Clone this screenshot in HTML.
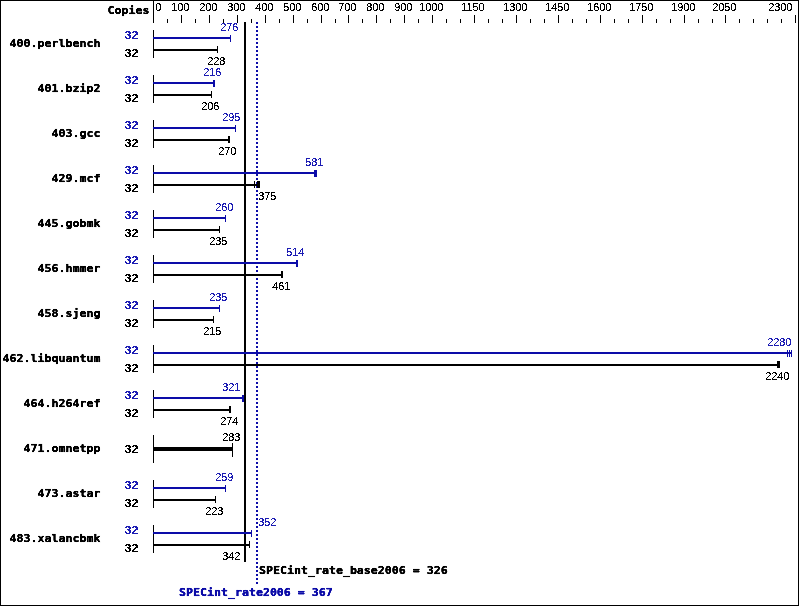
<!DOCTYPE html>
<html lang="en"><head><meta charset="utf-8"><title>SPECint_rate2006 result graph</title>
<style>
html,body{margin:0;padding:0;background:#fff}
svg{display:block}
text{white-space:pre}
.m{font-family:"DejaVu Sans Mono","Liberation Mono",monospace;font-weight:bold;font-size:11.627px;stroke-width:0.35px;stroke-linejoin:round}
.n{font-family:"Liberation Sans",Arial,sans-serif;font-size:11px;letter-spacing:-0.117px}
.b{font-family:"Liberation Sans",Arial,sans-serif;font-weight:bold;font-size:12.6px}
</style></head>
<body>
<svg width="799" height="606" viewBox="0 0 799 606" shape-rendering="crispEdges">
<rect x="0" y="0" width="799" height="606" fill="#fff"/>
<defs><filter id="thr" x="0" y="0" width="799" height="606" filterUnits="userSpaceOnUse" color-interpolation-filters="sRGB"><feComponentTransfer><feFuncA type="discrete" tableValues="0 0 1 1 1"/></feComponentTransfer></filter><filter id="bf" x="0" y="0" width="799" height="606" filterUnits="userSpaceOnUse" color-interpolation-filters="sRGB"><feComponentTransfer><feFuncA type="discrete" tableValues="0 0 1 1 1"/></feComponentTransfer></filter><filter id="mf" x="0" y="0" width="799" height="606" filterUnits="userSpaceOnUse" color-interpolation-filters="sRGB"><feComponentTransfer><feFuncA type="table" tableValues="0 0.05 0.6 1 1"/></feComponentTransfer></filter></defs>
<rect x="0" y="0" width="799" height="1" fill="#000"/>
<rect x="0" y="605" width="799" height="1" fill="#000"/>
<rect x="0" y="0" width="1" height="606" fill="#000"/>
<rect x="798" y="0" width="1" height="606" fill="#000"/>
<rect x="153" y="0" width="1" height="23" fill="#000"/>
<rect x="167" y="19" width="1" height="4" fill="#000"/>
<rect x="181" y="15" width="1" height="8" fill="#000"/>
<rect x="195" y="19" width="1" height="4" fill="#000"/>
<rect x="209" y="15" width="1" height="8" fill="#000"/>
<rect x="223" y="19" width="1" height="4" fill="#000"/>
<rect x="237" y="15" width="1" height="8" fill="#000"/>
<rect x="251" y="19" width="1" height="4" fill="#000"/>
<rect x="265" y="15" width="1" height="8" fill="#000"/>
<rect x="279" y="19" width="1" height="4" fill="#000"/>
<rect x="293" y="15" width="1" height="8" fill="#000"/>
<rect x="307" y="19" width="1" height="4" fill="#000"/>
<rect x="321" y="15" width="1" height="8" fill="#000"/>
<rect x="335" y="19" width="1" height="4" fill="#000"/>
<rect x="348" y="15" width="1" height="8" fill="#000"/>
<rect x="362" y="19" width="1" height="4" fill="#000"/>
<rect x="376" y="15" width="1" height="8" fill="#000"/>
<rect x="390" y="19" width="1" height="4" fill="#000"/>
<rect x="404" y="15" width="1" height="8" fill="#000"/>
<rect x="418" y="19" width="1" height="4" fill="#000"/>
<rect x="432" y="15" width="1" height="8" fill="#000"/>
<rect x="446" y="19" width="1" height="4" fill="#000"/>
<rect x="460" y="19" width="1" height="4" fill="#000"/>
<rect x="474" y="15" width="1" height="8" fill="#000"/>
<rect x="488" y="19" width="1" height="4" fill="#000"/>
<rect x="502" y="19" width="1" height="4" fill="#000"/>
<rect x="516" y="15" width="1" height="8" fill="#000"/>
<rect x="530" y="19" width="1" height="4" fill="#000"/>
<rect x="544" y="19" width="1" height="4" fill="#000"/>
<rect x="558" y="15" width="1" height="8" fill="#000"/>
<rect x="572" y="19" width="1" height="4" fill="#000"/>
<rect x="586" y="19" width="1" height="4" fill="#000"/>
<rect x="600" y="15" width="1" height="8" fill="#000"/>
<rect x="614" y="19" width="1" height="4" fill="#000"/>
<rect x="628" y="19" width="1" height="4" fill="#000"/>
<rect x="642" y="15" width="1" height="8" fill="#000"/>
<rect x="656" y="19" width="1" height="4" fill="#000"/>
<rect x="670" y="19" width="1" height="4" fill="#000"/>
<rect x="684" y="15" width="1" height="8" fill="#000"/>
<rect x="698" y="19" width="1" height="4" fill="#000"/>
<rect x="712" y="19" width="1" height="4" fill="#000"/>
<rect x="725" y="15" width="1" height="8" fill="#000"/>
<rect x="739" y="19" width="1" height="4" fill="#000"/>
<rect x="753" y="19" width="1" height="4" fill="#000"/>
<rect x="767" y="19" width="1" height="4" fill="#000"/>
<rect x="781" y="19" width="1" height="4" fill="#000"/>
<rect x="795" y="15" width="1" height="8" fill="#000"/>
<rect x="244" y="22" width="2" height="540" fill="#000"/>
<path d="M257 22V584" stroke="#0c0ca8" stroke-width="2" stroke-dasharray="2 2" fill="none"/>
<rect x="153" y="30" width="1" height="28" fill="#000"/>
<rect x="153" y="37" width="77" height="2" fill="#0c0ca8"/>
<rect x="230" y="35" width="1" height="7" fill="#0c0ca8"/>
<rect x="153" y="49" width="64" height="2" fill="#000"/>
<rect x="217" y="46" width="1" height="7" fill="#000"/>
<rect x="153" y="75" width="1" height="28" fill="#000"/>
<rect x="153" y="82" width="61" height="2" fill="#0c0ca8"/>
<rect x="213" y="80" width="1" height="7" fill="#0c0ca8"/>
<rect x="214" y="80" width="1" height="7" fill="#0c0ca8"/>
<rect x="153" y="94" width="58" height="2" fill="#000"/>
<rect x="211" y="91" width="1" height="7" fill="#000"/>
<rect x="153" y="120" width="1" height="28" fill="#000"/>
<rect x="153" y="127" width="82" height="2" fill="#0c0ca8"/>
<rect x="235" y="125" width="1" height="7" fill="#0c0ca8"/>
<rect x="153" y="139" width="76" height="2" fill="#000"/>
<rect x="228" y="136" width="1" height="7" fill="#000"/>
<rect x="229" y="136" width="1" height="7" fill="#000"/>
<rect x="153" y="165" width="1" height="28" fill="#000"/>
<rect x="153" y="172" width="163" height="2" fill="#0c0ca8"/>
<rect x="314" y="170" width="1" height="7" fill="#0c0ca8"/>
<rect x="315" y="170" width="1" height="7" fill="#0c0ca8"/>
<rect x="316" y="170" width="1" height="7" fill="#0c0ca8"/>
<rect x="153" y="184" width="106" height="2" fill="#000"/>
<rect x="254" y="181" width="1" height="7" fill="#000"/>
<rect x="257" y="181" width="1" height="7" fill="#000"/>
<rect x="258" y="181" width="1" height="7" fill="#000"/>
<rect x="259" y="181" width="1" height="7" fill="#000"/>
<rect x="153" y="210" width="1" height="28" fill="#000"/>
<rect x="153" y="217" width="72" height="2" fill="#0c0ca8"/>
<rect x="225" y="215" width="1" height="7" fill="#0c0ca8"/>
<rect x="153" y="229" width="66" height="2" fill="#000"/>
<rect x="219" y="226" width="1" height="7" fill="#000"/>
<rect x="153" y="255" width="1" height="28" fill="#000"/>
<rect x="153" y="262" width="144" height="2" fill="#0c0ca8"/>
<rect x="296" y="260" width="1" height="7" fill="#0c0ca8"/>
<rect x="297" y="260" width="1" height="7" fill="#0c0ca8"/>
<rect x="153" y="274" width="129" height="2" fill="#000"/>
<rect x="281" y="271" width="1" height="7" fill="#000"/>
<rect x="282" y="271" width="1" height="7" fill="#000"/>
<rect x="153" y="300" width="1" height="28" fill="#000"/>
<rect x="153" y="307" width="66" height="2" fill="#0c0ca8"/>
<rect x="219" y="305" width="1" height="7" fill="#0c0ca8"/>
<rect x="153" y="319" width="60" height="2" fill="#000"/>
<rect x="213" y="316" width="1" height="7" fill="#000"/>
<rect x="153" y="345" width="1" height="28" fill="#000"/>
<rect x="153" y="352" width="638" height="2" fill="#0c0ca8"/>
<rect x="787" y="350" width="1" height="7" fill="#0c0ca8"/>
<rect x="789" y="350" width="1" height="7" fill="#0c0ca8"/>
<rect x="791" y="350" width="1" height="7" fill="#0c0ca8"/>
<rect x="153" y="364" width="626" height="2" fill="#000"/>
<rect x="777" y="361" width="1" height="7" fill="#000"/>
<rect x="778" y="361" width="1" height="7" fill="#000"/>
<rect x="779" y="361" width="1" height="7" fill="#000"/>
<rect x="153" y="390" width="1" height="28" fill="#000"/>
<rect x="153" y="397" width="90" height="2" fill="#0c0ca8"/>
<rect x="242" y="395" width="1" height="7" fill="#0c0ca8"/>
<rect x="243" y="395" width="1" height="7" fill="#0c0ca8"/>
<rect x="153" y="409" width="77" height="2" fill="#000"/>
<rect x="229" y="406" width="1" height="7" fill="#000"/>
<rect x="230" y="406" width="1" height="7" fill="#000"/>
<rect x="153" y="435" width="1" height="28" fill="#000"/>
<rect x="153" y="447" width="79" height="4" fill="#000"/>
<rect x="232" y="443" width="1" height="14" fill="#000"/>
<rect x="153" y="480" width="1" height="28" fill="#000"/>
<rect x="153" y="487" width="72" height="2" fill="#0c0ca8"/>
<rect x="225" y="485" width="1" height="7" fill="#0c0ca8"/>
<rect x="153" y="499" width="62" height="2" fill="#000"/>
<rect x="215" y="496" width="1" height="7" fill="#000"/>
<rect x="153" y="525" width="1" height="28" fill="#000"/>
<rect x="153" y="532" width="98" height="2" fill="#0c0ca8"/>
<rect x="251" y="530" width="1" height="7" fill="#0c0ca8"/>
<rect x="153" y="544" width="96" height="2" fill="#000"/>
<rect x="249" y="541" width="1" height="7" fill="#000"/>
<g filter="url(#thr)">
<text x="155.35" y="11" class="n" text-anchor="start" fill="#000">0</text>
<text x="171.35" y="11" class="n" text-anchor="start" fill="#000">100</text>
<text x="199.35" y="11" class="n" text-anchor="start" fill="#000">200</text>
<text x="227.35" y="11" class="n" text-anchor="start" fill="#000">300</text>
<text x="255.35" y="11" class="n" text-anchor="start" fill="#000">400</text>
<text x="283.35" y="11" class="n" text-anchor="start" fill="#000">500</text>
<text x="311.35" y="11" class="n" text-anchor="start" fill="#000">600</text>
<text x="338.35" y="11" class="n" text-anchor="start" fill="#000">700</text>
<text x="366.35" y="11" class="n" text-anchor="start" fill="#000">800</text>
<text x="394.35" y="11" class="n" text-anchor="start" fill="#000">900</text>
<text x="419.35" y="11" class="n" text-anchor="start" fill="#000">1000</text>
<text x="461.35" y="11" class="n" text-anchor="start" fill="#000">1150</text>
<text x="503.35" y="11" class="n" text-anchor="start" fill="#000">1300</text>
<text x="545.35" y="11" class="n" text-anchor="start" fill="#000">1450</text>
<text x="587.35" y="11" class="n" text-anchor="start" fill="#000">1600</text>
<text x="629.35" y="11" class="n" text-anchor="start" fill="#000">1750</text>
<text x="671.35" y="11" class="n" text-anchor="start" fill="#000">1900</text>
<text x="712.35" y="11" class="n" text-anchor="start" fill="#000">2050</text>
<text x="768.35" y="11" class="n" text-anchor="start" fill="#000">2300</text>
<text x="220.35" y="31" class="n" text-anchor="start" fill="#1c1cb4">276</text>
<text x="207.35" y="65" class="n" text-anchor="start" fill="#000">228</text>
<text x="203.35" y="76" class="n" text-anchor="start" fill="#1c1cb4">216</text>
<text x="201.35" y="110" class="n" text-anchor="start" fill="#000">206</text>
<text x="222.35" y="121" class="n" text-anchor="start" fill="#1c1cb4">295</text>
<text x="218.35" y="155" class="n" text-anchor="start" fill="#000">270</text>
<text x="305.35" y="166" class="n" text-anchor="start" fill="#1c1cb4">581</text>
<text x="258.35" y="200" class="n" text-anchor="start" fill="#000">375</text>
<text x="215.35" y="211" class="n" text-anchor="start" fill="#1c1cb4">260</text>
<text x="209.35" y="245" class="n" text-anchor="start" fill="#000">235</text>
<text x="286.35" y="256" class="n" text-anchor="start" fill="#1c1cb4">514</text>
<text x="272.35" y="290" class="n" text-anchor="start" fill="#000">461</text>
<text x="209.35" y="301" class="n" text-anchor="start" fill="#1c1cb4">235</text>
<text x="203.35" y="335" class="n" text-anchor="start" fill="#000">215</text>
<text x="767.35" y="346" class="n" text-anchor="start" fill="#1c1cb4">2280</text>
<text x="765.35" y="380" class="n" text-anchor="start" fill="#000">2240</text>
<text x="222.35" y="391" class="n" text-anchor="start" fill="#1c1cb4">321</text>
<text x="220.35" y="425" class="n" text-anchor="start" fill="#000">274</text>
<text x="222.35" y="441" class="n" text-anchor="start" fill="#000">283</text>
<text x="215.35" y="481" class="n" text-anchor="start" fill="#1c1cb4">259</text>
<text x="205.35" y="515" class="n" text-anchor="start" fill="#000">223</text>
<text x="258.35" y="526" class="n" text-anchor="start" fill="#1c1cb4">352</text>
<text x="222.35" y="560" class="n" text-anchor="start" fill="#000">342</text>
</g>
<g filter="url(#bf)">
<text transform="translate(124.6,39) scale(1,0.9)" class="b" fill="#1c1cb4">32</text>
<text transform="translate(124.6,57) scale(1,0.9)" class="b" fill="#000">32</text>
<text transform="translate(124.6,84) scale(1,0.9)" class="b" fill="#1c1cb4">32</text>
<text transform="translate(124.6,102) scale(1,0.9)" class="b" fill="#000">32</text>
<text transform="translate(124.6,129) scale(1,0.9)" class="b" fill="#1c1cb4">32</text>
<text transform="translate(124.6,147) scale(1,0.9)" class="b" fill="#000">32</text>
<text transform="translate(124.6,174) scale(1,0.9)" class="b" fill="#1c1cb4">32</text>
<text transform="translate(124.6,192) scale(1,0.9)" class="b" fill="#000">32</text>
<text transform="translate(124.6,219) scale(1,0.9)" class="b" fill="#1c1cb4">32</text>
<text transform="translate(124.6,237) scale(1,0.9)" class="b" fill="#000">32</text>
<text transform="translate(124.6,264) scale(1,0.9)" class="b" fill="#1c1cb4">32</text>
<text transform="translate(124.6,282) scale(1,0.9)" class="b" fill="#000">32</text>
<text transform="translate(124.6,309) scale(1,0.9)" class="b" fill="#1c1cb4">32</text>
<text transform="translate(124.6,327) scale(1,0.9)" class="b" fill="#000">32</text>
<text transform="translate(124.6,354) scale(1,0.9)" class="b" fill="#1c1cb4">32</text>
<text transform="translate(124.6,372) scale(1,0.9)" class="b" fill="#000">32</text>
<text transform="translate(124.6,399) scale(1,0.9)" class="b" fill="#1c1cb4">32</text>
<text transform="translate(124.6,417) scale(1,0.9)" class="b" fill="#000">32</text>
<text transform="translate(124.6,453) scale(1,0.9)" class="b" fill="#000">32</text>
<text transform="translate(124.6,489) scale(1,0.9)" class="b" fill="#1c1cb4">32</text>
<text transform="translate(124.6,507) scale(1,0.9)" class="b" fill="#000">32</text>
<text transform="translate(124.6,534) scale(1,0.9)" class="b" fill="#1c1cb4">32</text>
<text transform="translate(124.6,552) scale(1,0.9)" class="b" fill="#000">32</text>
</g>
<g filter="url(#mf)">
<text transform="translate(107.5,14) scale(1,0.92)" class="m" text-anchor="start" fill="#000" stroke="#000">Copies</text>
<text transform="translate(100.5,47) scale(1,0.92)" class="m" text-anchor="end" fill="#000" stroke="#000">400.perlbench</text>
<text transform="translate(100.5,92) scale(1,0.92)" class="m" text-anchor="end" fill="#000" stroke="#000">401.bzip2</text>
<text transform="translate(100.5,137) scale(1,0.92)" class="m" text-anchor="end" fill="#000" stroke="#000">403.gcc</text>
<text transform="translate(100.5,182) scale(1,0.92)" class="m" text-anchor="end" fill="#000" stroke="#000">429.mcf</text>
<text transform="translate(100.5,227) scale(1,0.92)" class="m" text-anchor="end" fill="#000" stroke="#000">445.gobmk</text>
<text transform="translate(100.5,272) scale(1,0.92)" class="m" text-anchor="end" fill="#000" stroke="#000">456.hmmer</text>
<text transform="translate(100.5,317) scale(1,0.92)" class="m" text-anchor="end" fill="#000" stroke="#000">458.sjeng</text>
<text transform="translate(100.5,362) scale(1,0.92)" class="m" text-anchor="end" fill="#000" stroke="#000">462.libquantum</text>
<text transform="translate(100.5,407) scale(1,0.92)" class="m" text-anchor="end" fill="#000" stroke="#000">464.h264ref</text>
<text transform="translate(100.5,452) scale(1,0.92)" class="m" text-anchor="end" fill="#000" stroke="#000">471.omnetpp</text>
<text transform="translate(100.5,497) scale(1,0.92)" class="m" text-anchor="end" fill="#000" stroke="#000">473.astar</text>
<text transform="translate(100.5,542) scale(1,0.92)" class="m" text-anchor="end" fill="#000" stroke="#000">483.xalancbmk</text>
<text transform="translate(259,574) scale(1,0.92)" class="m" text-anchor="start" fill="#000" stroke="#000">SPECint_rate_base2006 = 326</text>
<text transform="translate(179,596) scale(1,0.92)" class="m" text-anchor="start" fill="#0c0ca8" stroke="#0c0ca8">SPECint_rate2006 = 367</text>
</g>
</svg>
</body></html>
